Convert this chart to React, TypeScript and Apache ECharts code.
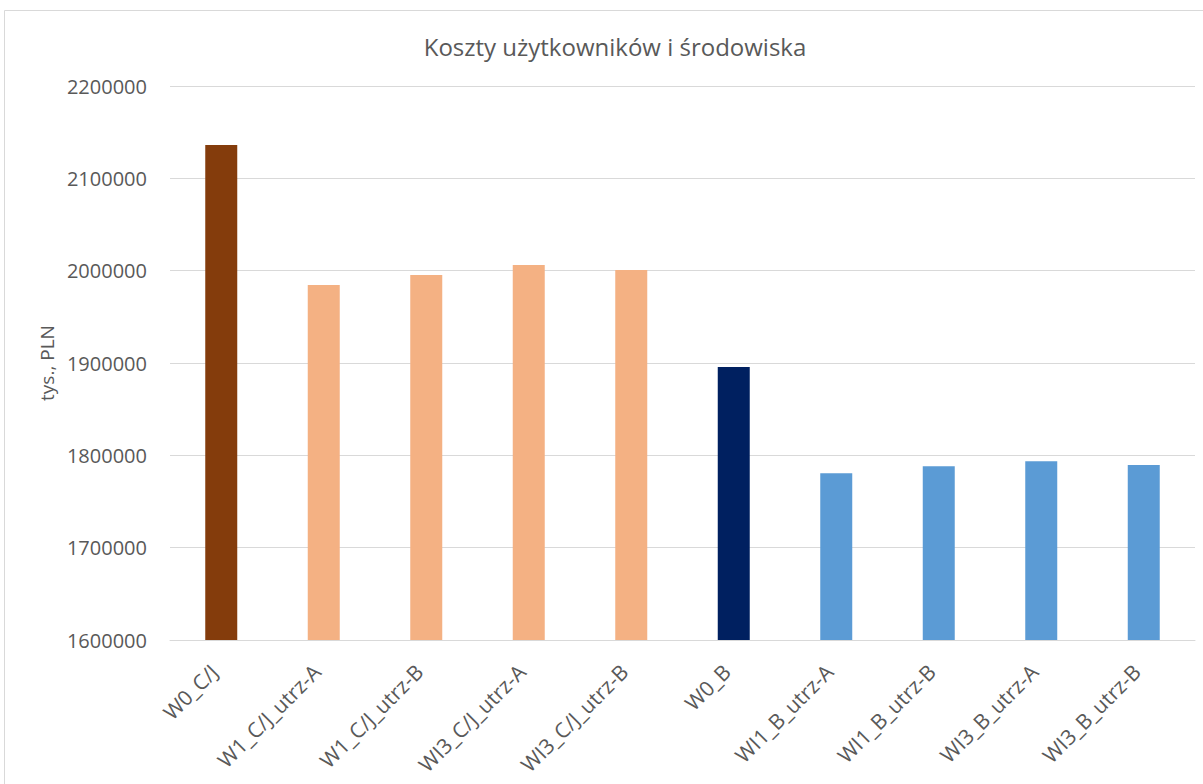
import React, { useEffect, useRef } from "react";
import * as echarts from "echarts";

const categories = [
  "W0_C/J",
  "W1_C/J_utrz-A",
  "W1_C/J_utrz-B",
  "WI3_C/J_utrz-A",
  "WI3_C/J_utrz-B",
  "W0_B",
  "WI1_B_utrz-A",
  "WI1_B_utrz-B",
  "WI3_B_utrz-A",
  "WI3_B_utrz-B",
];
const values = [2136000, 1984500, 1995300, 2006100, 2000700, 1895700, 1780500, 1788100, 1793500, 1789500];
const colors = ["#843C0C", "#F4B183", "#F4B183", "#F4B183", "#F4B183", "#002060", "#5B9BD5", "#5B9BD5", "#5B9BD5", "#5B9BD5"];

const FONT = "'Open Sans', 'Noto Sans', sans-serif";

export default function App() {
  const ref = useRef<HTMLDivElement>(null);
  useEffect(() => {
    if (!ref.current) return;
    const chart = echarts.init(ref.current, null, { renderer: "svg" });
    chart.setOption({
      animation: false,
      backgroundColor: "#ffffff",
      graphic: [
        {
          type: "rect",
          shape: { x: 4.5, y: 10.5, width: 1210, height: 790 },
          style: { fill: "none", stroke: "#d9d9d9", lineWidth: 1 },
          silent: true,
        },
      ],
      title: {
        text: "Koszty użytkowników i środowiska",
        left: 610,
        textAlign: "center",
        top: 29,
        textStyle: { fontFamily: FONT, fontSize: 24, fontWeight: "normal", color: "#595959" },
      },
      grid: { left: 170, right: 8, top: 86, bottom: 144 },
      xAxis: {
        type: "category",
        data: categories,
        axisLine: { lineStyle: { color: "#d9d9d9" } },
        axisTick: { show: false },
        axisLabel: {
          rotate: 45,
          interval: 0,
          margin: 21,
          padding: [0, 10, 0, 0],
          fontFamily: FONT,
          fontSize: 21,
          color: "#595959",
        },
      },
      yAxis: {
        type: "value",
        min: 1600000,
        max: 2200000,
        interval: 100000,
        name: "tys., PLN",
        nameLocation: "middle",
        nameGap: 114,
        nameTextStyle: { fontFamily: FONT, fontSize: 19, color: "#595959" },
        axisLine: { show: false },
        axisTick: { show: false },
        splitLine: { lineStyle: { color: "#d9d9d9", width: 1 } },
        axisLabel: {
          margin: 23,
          fontFamily: FONT,
          fontSize: 20,
          color: "#595959",
          formatter: (v: number) => String(v),
        },
      },
      series: [
        {
          type: "bar",
          barWidth: 32,
          data: values.map((v, i) => ({ value: v, itemStyle: { color: colors[i] } })),
        },
      ],
    });
    return () => chart.dispose();
  }, []);
  return <div ref={ref} style={{ position: "fixed", left: 0, top: 0, width: 1203, height: 784 }} />;
}
